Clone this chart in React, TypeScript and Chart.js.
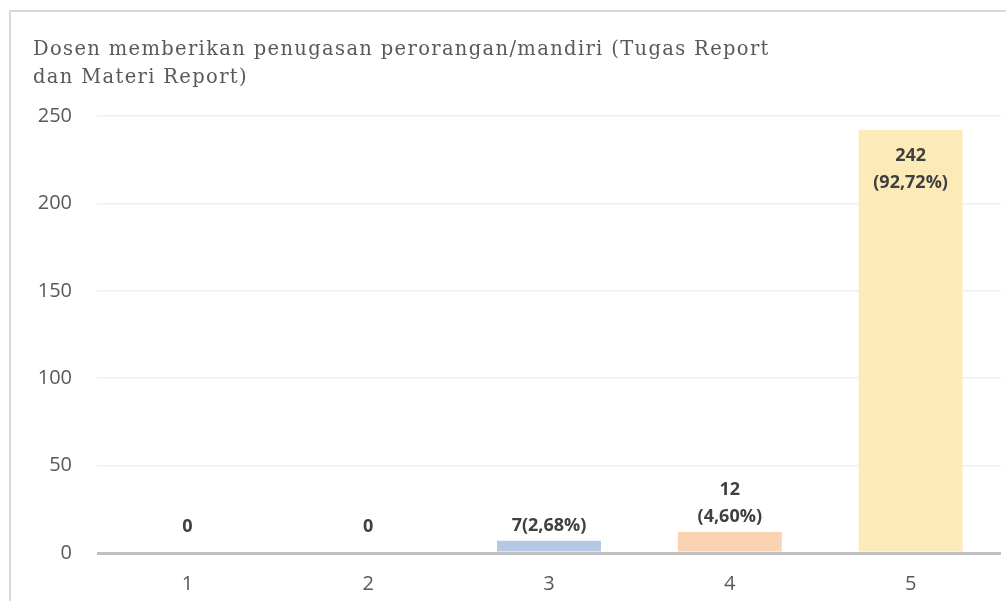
import React, { useEffect, useRef } from "react";
import { Chart, registerables } from "chart.js";

Chart.register(...registerables);

const categories = ["1", "2", "3", "4", "5"];
const counts = [0, 0, 7, 12, 242];
const dataLabels = [["0"], ["0"], ["7(2,68%)"], ["12", "(4,60%)"], ["242", "(92,72%)"]];
const barColors = ["#b4c8e4", "#b4c8e4", "#b4c8e4", "#f9d3b2", "#fdeab9"];
const yMin = 0;
const yMax = 250;
const yStep = 50;
const titleLines = [
  "Dosen memberikan penugasan perorangan/mandiri (Tugas Report",
  "dan Materi Report)",
];

const frameAndTitle = {
  id: "frameAndTitle",
  beforeDraw(chart: any) {
    const ctx = chart.ctx;
    ctx.save();
    ctx.fillStyle = "#ffffff";
    ctx.fillRect(0, 0, chart.width, chart.height);
    ctx.strokeStyle = "#d9d9d9";
    ctx.lineWidth = 2;
    ctx.strokeRect(10, 11, chart.width + 40, chart.height + 40);
    ctx.font = "19.5px 'DejaVu Serif'";
    ctx.fillStyle = "#595959";
    ctx.textAlign = "left";
    ctx.textBaseline = "alphabetic";
    ctx.letterSpacing = "0px";
    const w0 = ctx.measureText(titleLines[0]).width;
    const spacing = (737 - w0) / titleLines[0].length;
    ctx.letterSpacing = spacing.toFixed(2) + "px";
    titleLines.forEach((line, k) => ctx.fillText(line, 33, 55 + k * 28));
    ctx.letterSpacing = "0px";
    ctx.restore();
  },
};

const barLabels = {
  id: "barLabels",
  afterDatasetsDraw(chart: any) {
    const meta = chart.getDatasetMeta(0);
    const ctx = chart.ctx;
    ctx.save();
    ctx.font = "bold 18px 'Open Sans'";
    ctx.fillStyle = "#404040";
    ctx.textAlign = "center";
    ctx.textBaseline = "middle";
    const lh = 27;
    meta.data.forEach((bar: any, i: number) => {
      const lines = dataLabels[i];
      const v = counts[i];
      const inside = v > yMax * 0.4;
      let firstY: number;
      if (inside) {
        firstY = bar.y + 26;
      } else {
        const lastY = bar.y - (v === 0 ? 26 : 15);
        firstY = lastY - (lines.length - 1) * lh;
      }
      lines.forEach((l, k) => ctx.fillText(l, bar.x, firstY + k * lh));
    });
    ctx.restore();
  },
};

export default function App() {
  const ref = useRef<HTMLCanvasElement>(null);
  useEffect(() => {
    if (!ref.current) return;
    const chart = new Chart(ref.current, {
      type: "bar",
      data: {
        labels: categories,
        datasets: [
          {
            data: counts,
            backgroundColor: barColors,
            borderWidth: 0,
            categoryPercentage: 1,
            barPercentage: 0.575,
          },
        ],
      },
      options: {
        responsive: false,
        animation: false,
        devicePixelRatio: 1,
        layout: { padding: { top: 116, left: 10, right: 5, bottom: 0 } },
        plugins: {
          legend: { display: false },
          title: { display: false },
          tooltip: { enabled: false },
        },
        scales: {
          x: {
            grid: { display: false },
            border: { display: false },
            ticks: {
              color: "#595959",
              font: { family: "'Open Sans'", size: 20 },
              padding: 11,
            },
            afterFit(scale: any) {
              scale.height = 48;
            },
          },
          y: {
            min: yMin,
            max: yMax,
            border: { display: false },
            grid: {
              drawTicks: false,
              color: (c: any) => (c.tick && c.tick.value === 0 ? "#bfbfbf" : "#efefef"),
              lineWidth: (c: any) => (c.tick && c.tick.value === 0 ? 3 : 1.5),
            },
            ticks: {
              stepSize: yStep,
              color: "#595959",
              font: { family: "'Open Sans'", size: 20 },
              padding: 25,
            },
            afterFit(scale: any) {
              scale.width = 87;
            },
          },
        },
      },
      plugins: [frameAndTitle, barLabels],
    });
    return () => chart.destroy();
  }, []);
  return (
    <div style={{ position: "fixed", left: 0, top: 0, width: 1006, height: 601, background: "#fff", overflow: "hidden" }}>
      <canvas ref={ref} width={1006} height={601} style={{ display: "block" }} />
    </div>
  );
}
